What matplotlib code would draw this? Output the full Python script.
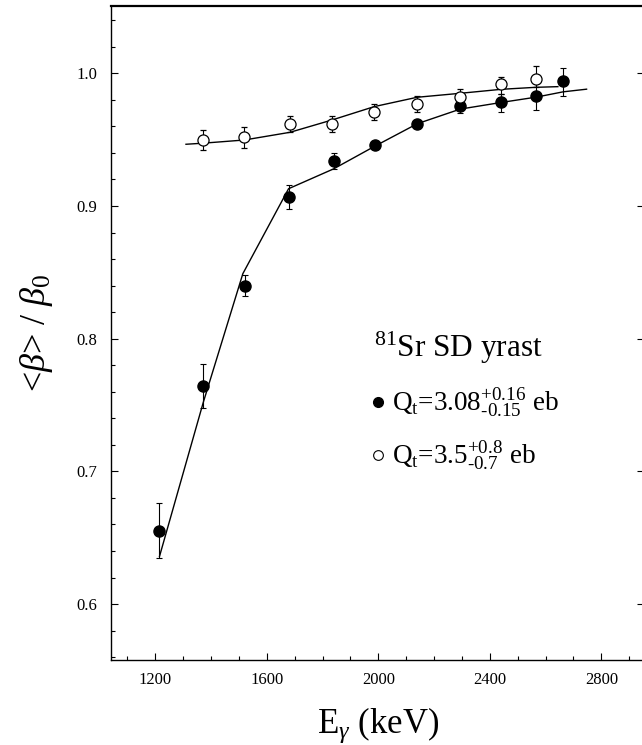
import matplotlib
matplotlib.use('Agg')
import matplotlib.pyplot as plt
from matplotlib.ticker import MultipleLocator

plt.rcParams['font.family'] = ['Liberation Serif', 'DejaVu Serif']
plt.rcParams['mathtext.fontset'] = 'custom'
plt.rcParams['mathtext.rm'] = 'Liberation Serif'
plt.rcParams['mathtext.it'] = 'Liberation Serif:italic'

# 81Sr SD yrast band: Doppler shift attenuation <beta>/beta0 vs gamma energy
e_filled = [1214, 1372, 1520, 1678, 1840, 1987, 2140, 2294, 2441, 2566, 2663]
b_filled = [0.655, 0.764, 0.840, 0.907, 0.934, 0.946, 0.962, 0.975, 0.978, 0.983, 0.994]
up_filled = [0.021, 0.017, 0.008, 0.009, 0.006, 0.003, 0.003, 0.006, 0.006, 0.0095, 0.010]
lo_filled = [0.020, 0.016, 0.008, 0.009, 0.006, 0.003, 0.003, 0.005, 0.007, 0.011, 0.011]

e_open = [1371, 1519, 1683, 1834, 1986, 2139, 2294, 2441, 2564]
b_open = [0.950, 0.952, 0.962, 0.962, 0.971, 0.977, 0.982, 0.992, 0.996]
up_open = [0.0075, 0.0075, 0.006, 0.006, 0.006, 0.006, 0.006, 0.0055, 0.0095]
lo_open = [0.0075, 0.008, 0.006, 0.006, 0.006, 0.006, 0.005, 0.0075, 0.0065]

# fitted curves
fit_filled_e = [1215, 1372, 1514, 1678, 1840, 1987, 2140, 2294, 2441, 2566, 2663, 2747]
fit_filled_b = [0.636, 0.752, 0.849, 0.913, 0.928, 0.945, 0.962, 0.973, 0.978, 0.982, 0.986, 0.988]
fit_open_e = [1310, 1371, 1519, 1683, 1834, 1986, 2139, 2294, 2441, 2564, 2644]
fit_open_b = [0.9465, 0.9473, 0.9497, 0.9555, 0.9648, 0.9749, 0.9819, 0.9849, 0.9879, 0.9894, 0.9899]

fig = plt.figure(figsize=(6.42, 7.45), dpi=100)
ax = fig.add_axes([111/642, 85/745, 533/642, 654.3/745])

ax.plot(fit_filled_e, fit_filled_b, color='k', lw=1.0, zorder=2)
ax.plot(fit_open_e, fit_open_b, color='k', lw=1.0, zorder=2)

ax.errorbar(e_filled, b_filled, yerr=[lo_filled, up_filled], fmt='o', ms=8,
            mfc='k', mec='k', ecolor='k', elinewidth=0.8, capsize=2.5,
            capthick=0.8, zorder=3)
ax.errorbar(e_open, b_open, yerr=[lo_open, up_open], fmt='o', ms=8,
            mfc='white', mec='k', mew=0.9, ecolor='k', elinewidth=0.8,
            capsize=2.5, capthick=0.8, zorder=3)

ax.set_xlim(1041, 2953)
ax.set_ylim(0.5579, 1.0509)
ax.xaxis.set_major_locator(MultipleLocator(400))
ax.xaxis.set_minor_locator(MultipleLocator(100))
ax.yaxis.set_major_locator(MultipleLocator(0.1))
ax.yaxis.set_minor_locator(MultipleLocator(0.02))
ax.yaxis.set_major_formatter(lambda v, pos: f'{v:.1f}')

ax.tick_params(which='both', direction='in', top=False, width=0.8, labelsize=12)
ax.tick_params(which='major', length=5, right=True)
ax.tick_params(which='minor', length=3, right=False)
ax.tick_params(axis='x', pad=9)
ax.tick_params(axis='y', pad=10)
for s in ax.spines.values():
    s.set_linewidth(1.0)
ax.spines['top'].set_linewidth(1.6)

ax.set_xlabel(r'E$_\gamma$ (keV)', fontsize=25)
ax.xaxis.set_label_coords(0.501, -0.1116)
ax.xaxis.label.set_va('baseline')
ax.set_ylabel(r'<$\beta$> / $\beta_0$', fontsize=26)
ax.yaxis.set_label_coords(-0.14, 0.50)
ax.yaxis.label.set_va('center')

# key
ax.text(0.493, 0.4626, r'$^{81}$Sr SD yrast', transform=ax.transAxes,
        fontsize=22.5, va='baseline')
ax.plot([0.5015], [0.3948], 'o', ms=7, mfc='k', mec='k', transform=ax.transAxes)
ax.plot([0.5015], [0.3133], 'o', ms=7, mfc='white', mec='k', mew=0.8,
        transform=ax.transAxes)
ax.text(0.5266, 0.3806, 'Q$_\\mathrm{t}$=3.08$^{+0.16}_{\u20100.15}$ eb',
        transform=ax.transAxes, fontsize=19.5, va='baseline')
ax.text(0.5266, 0.2996, 'Q$_\\mathrm{t}$=3.5$^{+0.8}_{\u20100.7}$ eb',
        transform=ax.transAxes, fontsize=19.5, va='baseline')

fig.savefig('out.png', dpi=100)
